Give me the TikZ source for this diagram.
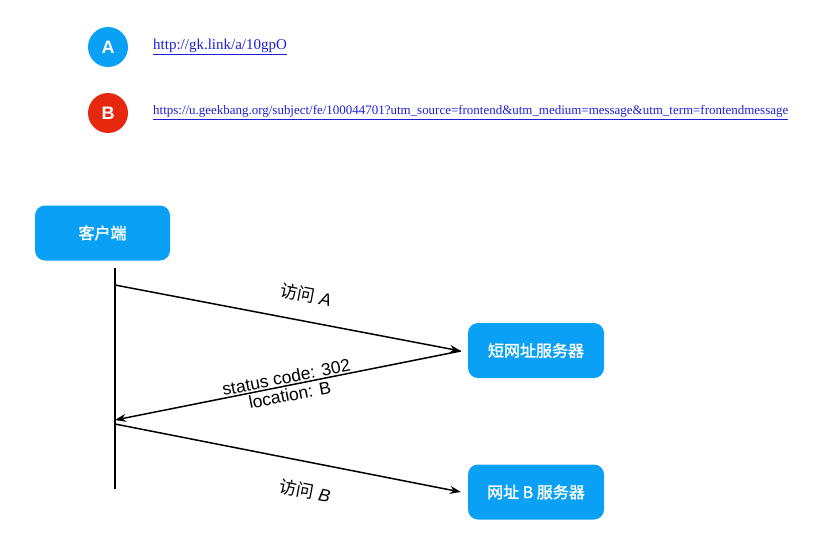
\documentclass[tikz,border=0pt]{standalone}
\usepackage{fontspec}
\setmainfont{Liberation Sans}
\newfontfamily\cjk{Noto Sans CJK SC}
\newfontfamily\cjkbold[FakeBold=1.5]{Noto Sans CJK SC}
\newfontfamily\serifurl{Liberation Serif}
\usetikzlibrary{arrows.meta}
\definecolor{boxblue}{RGB}{10,160,245}
\definecolor{markred}{RGB}{230,40,15}
\definecolor{linkblue}{RGB}{30,30,215}
\tikzset{
  mark circle/.style={circle, minimum size=40pt, inner sep=0pt, text=white, font=\bfseries\fontsize{18}{18}\selectfont},
  linktext/.style={anchor=west, inner sep=0pt, text=linkblue},
  server/.style={draw=none, fill=boxblue, rounded corners=10pt, minimum width=136pt, minimum height=55pt, text=white, font=\cjkbold\fontsize{16}{16}\selectfont},
  msg/.style={line width=1.5pt, -{Stealth[length=11pt,width=8pt]}},
  msglabel/.style={font=\fontsize{17.5}{18}\selectfont, inner sep=1pt, align=center}
}
\begin{document}
\begin{tikzpicture}[x=1pt,y=-1pt]
\useasboundingbox (0,0) rectangle (816,542);
% legend
\node[mark circle, fill=boxblue] (ma) at (108,47) {A};
\node[mark circle, fill=markred] (mb) at (108,113) {B};
\node[linktext, font=\serifurl\fontsize{15}{15}\selectfont] (la) at (153,47) {\underline{http://gk.link/a/10gpO}};
\node[linktext, font=\serifurl\fontsize{11}{11}\selectfont] (lb) at (153,113) {\resizebox{635pt}{!}{\underline{https://u.geekbang.org/subject/fe/100044701?utm\_source=frontend\&utm\_medium=message\&utm\_term=frontendmessage}}};
% boxes
\node[server, minimum width=135pt] (client) at (102.5,233) {客户端};
\node[server] (srv1) at (536,350.5) {短网址服务器};
\node[server] (srv2) at (536,492) {网址 B 服务器};
% lifeline
\coordinate (top) at (115,268);
\coordinate (bot) at (115,489);
\draw[line width=1.5pt] (top) -- (bot);
\coordinate (c1) at (115,285);
\coordinate (c2) at (115,420);
\coordinate (c3) at (115,424);
\coordinate (e1) at ([xshift=-7pt,yshift=-0.5pt]srv1.west);
\coordinate (e2) at ([xshift=-7pt]srv2.west);
\draw[msg] (c1) -- (e1);
\draw[msg] (e1) -- (c2);
\draw[msg] (c3) -- (e2);
% labels
\node[msglabel, rotate=-10.8] (l1) at (306,295) {{\cjk 访问} \textit{A}};
\node[msglabel, rotate=11] (l2) at (288,386) {status code: 302\\location: B};
\node[msglabel, rotate=-10.8] (l3) at (305,491) {{\cjk 访问} \textit{B}};
\end{tikzpicture}
\end{document}
